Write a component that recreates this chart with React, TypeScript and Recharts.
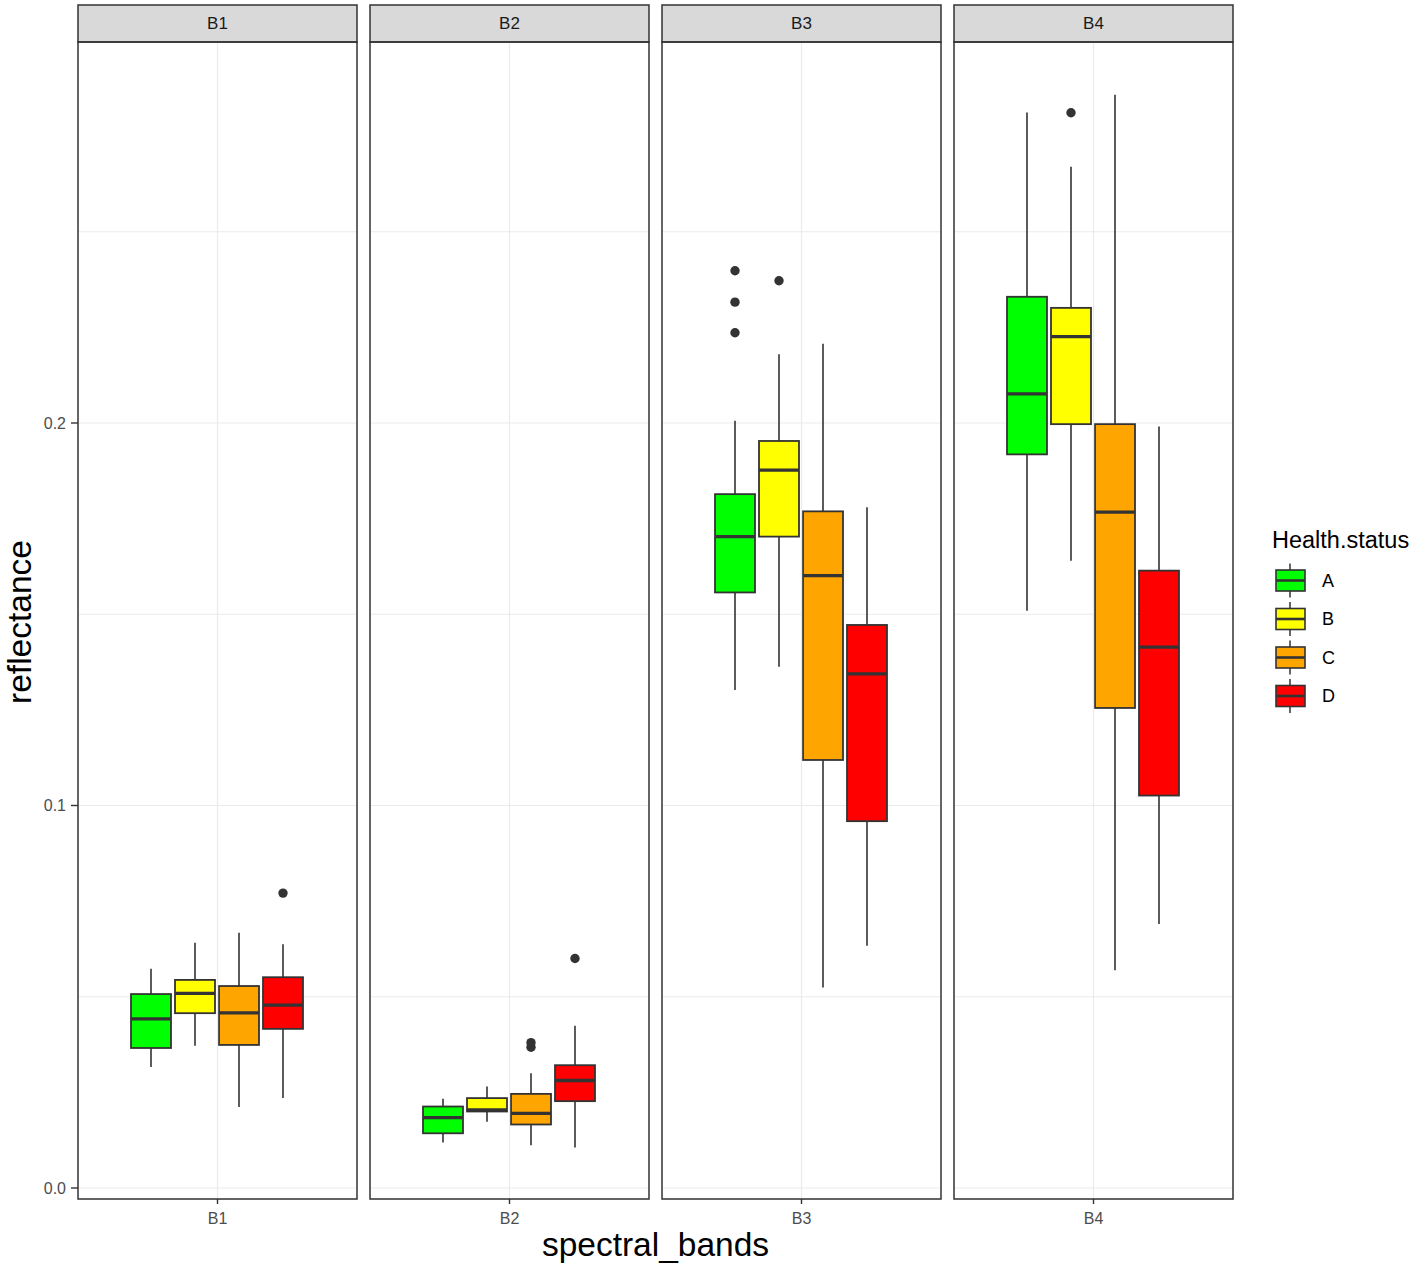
import React from 'react';
import { ComposedChart, Bar, XAxis, YAxis, CartesianGrid, ReferenceLine } from 'recharts';

// ---------- data ----------
const bands = ['B1', 'B2', 'B3', 'B4'];
const groups = ['A', 'B', 'C', 'D'];
const yTicks = [0, 0.05, 0.1, 0.15, 0.2, 0.25];
const yMajorTicks = [0, 0.1, 0.2];

type Stat = { group: string; lo: number; q1: number; med: number; q3: number; hi: number; out: number[] };

const b1Stats: Stat[] = [
  { group: 'A', lo: 0.0316, q1: 0.0366, med: 0.0442, q3: 0.0507, hi: 0.0573, out: [] },
  { group: 'B', lo: 0.0372, q1: 0.0457, med: 0.0509, q3: 0.0544, hi: 0.0641, out: [] },
  { group: 'C', lo: 0.0212, q1: 0.0374, med: 0.0458, q3: 0.0528, hi: 0.0667, out: [] },
  { group: 'D', lo: 0.0235, q1: 0.0416, med: 0.0478, q3: 0.0551, hi: 0.0637, out: [0.0771] },
];
const b2Stats: Stat[] = [
  { group: 'A', lo: 0.0119, q1: 0.0143, med: 0.0184, q3: 0.0213, hi: 0.0233, out: [] },
  { group: 'B', lo: 0.0173, q1: 0.02, med: 0.0204, q3: 0.0235, hi: 0.0265, out: [] },
  { group: 'C', lo: 0.0112, q1: 0.0166, med: 0.0195, q3: 0.0246, hi: 0.03, out: [0.0368, 0.038] },
  { group: 'D', lo: 0.0106, q1: 0.0227, med: 0.0281, q3: 0.0321, hi: 0.0424, out: [0.06] },
];
const b3Stats: Stat[] = [
  { group: 'A', lo: 0.1302, q1: 0.1557, med: 0.1703, q3: 0.1814, hi: 0.2006, out: [0.2236, 0.2316, 0.2398] },
  { group: 'B', lo: 0.1363, q1: 0.1703, med: 0.1877, q3: 0.1953, hi: 0.218, out: [0.2372] },
  { group: 'C', lo: 0.0524, q1: 0.1119, med: 0.1601, q3: 0.1769, hi: 0.2207, out: [] },
  { group: 'D', lo: 0.0633, q1: 0.0959, med: 0.1344, q3: 0.1472, hi: 0.178, out: [] },
];
const b4Stats: Stat[] = [
  { group: 'A', lo: 0.1509, q1: 0.1918, med: 0.2076, q3: 0.233, hi: 0.2812, out: [] },
  { group: 'B', lo: 0.164, q1: 0.1997, med: 0.2226, q3: 0.2301, hi: 0.267, out: [0.2811] },
  { group: 'C', lo: 0.0569, q1: 0.1255, med: 0.1767, q3: 0.1997, hi: 0.2858, out: [] },
  { group: 'D', lo: 0.069, q1: 0.1026, med: 0.1414, q3: 0.1614, hi: 0.1991, out: [] },
];
const bandStats = [b1Stats, b2Stats, b3Stats, b4Stats];

// ---------- styles / layout ----------
const groupColors: Record<string, string> = { A: '#00FF00', B: '#FFFF00', C: '#FFA500', D: '#FF0000' };
const W = 1418;
const H = 1270;
const PANEL_X0 = 78;
const PANEL_STEP = 292;
const PANEL_W = 279;
const PANEL_TOP = 42;
const PANEL_BOTTOM = 1199;
const STRIP_TOP = 5;
const XAXIS_H = 30;
const YAXIS_W = 40;
const Y_DOMAIN: [number, number] = [-0.00288, 0.29961];
const DARK = '#333333';
const GRID = '#EBEBEB';
const FONT = '"Liberation Sans", Arial, Helvetica, sans-serif';

const BoxShape = (props: any) => {
  const { x, y, width, height, payload } = props;
  if (!payload || x == null) return null;
  const top = Math.min(y, y + height);
  const bot = Math.max(y, y + height);
  const span = payload.hi - payload.lo;
  const px = (v: number) => top + ((payload.hi - v) / span) * (bot - top);
  const cx = x + width / 2;
  const yq3 = px(payload.q3);
  const yq1 = px(payload.q1);
  return (
    <g>
      <line x1={cx} x2={cx} y1={px(payload.hi)} y2={yq3} stroke={DARK} strokeWidth={1.6} />
      <line x1={cx} x2={cx} y1={yq1} y2={px(payload.lo)} stroke={DARK} strokeWidth={1.6} />
      <rect x={x} y={yq3} width={width} height={yq1 - yq3} fill={groupColors[payload.group]} stroke={DARK} strokeWidth={1.8} />
      <line x1={x} x2={x + width} y1={px(payload.med)} y2={px(payload.med)} stroke={DARK} strokeWidth={3.3} />
      {payload.out.map((o: number, k: number) => (
        <circle key={k} cx={cx} cy={px(o)} r={4.7} fill={DARK} />
      ))}
    </g>
  );
};

const YTick = (props: any) => {
  const { x, y, payload } = props;
  const v = payload.value;
  if (!yMajorTicks.some((t) => Math.abs(t - v) < 1e-9)) return <g />;
  return (
    <g>
      <line x1={x + 5} x2={x + 12} y1={y} y2={y} stroke={DARK} strokeWidth={1.4} />
      <text x={x} y={y} dy="0.35em" textAnchor="end" fontSize={16} fill="#4D4D4D" fontFamily={FONT}>
        {v.toFixed(1)}
      </text>
    </g>
  );
};

const Panel = ({ index }: { index: number }) => {
  const left = PANEL_X0 + index * PANEL_STEP;
  const band = bands[index];
  const rows = bandStats[index].map((s) => ({ ...s, band }));
  return (
    <div style={{ position: 'absolute', left: 0, top: 0 }}>
      <ComposedChart
        width={W}
        height={H}
        data={rows}
        margin={{
          top: PANEL_TOP,
          bottom: H - PANEL_BOTTOM - XAXIS_H,
          left: index === 0 ? left - YAXIS_W : left,
          right: W - left - PANEL_W,
        }}
      >
        <CartesianGrid stroke={GRID} strokeWidth={1.2} vertical={false} />
        <XAxis xAxisId="cat" dataKey="group" type="category" hide padding={{ left: 51, right: 52 }} />
        <XAxis
          xAxisId={0}
          dataKey="band"
          type="category"
          allowDuplicatedCategory={false}
          axisLine={false}
          tickLine={{ stroke: DARK, strokeWidth: 1.4 }}
          tickSize={5}
          tickMargin={9}
          height={XAXIS_H}
          interval={0}
          tick={{ fill: '#4D4D4D', fontSize: 16, fontFamily: FONT }}
        />
        <YAxis
          type="number"
          domain={Y_DOMAIN}
          ticks={yTicks}
          allowDataOverflow
          width={YAXIS_W}
          hide={index > 0}
          tick={<YTick />}
          tickLine={false}
          axisLine={false}
          tickSize={7}
          tickMargin={5}
        />
        <ReferenceLine xAxisId={0} x={band} stroke={GRID} strokeWidth={1.2} position="middle" />
        <Bar
          xAxisId="cat"
          dataKey={(d: Stat) => [d.lo, d.hi]}
          barSize={40}
          shape={<BoxShape />}
          activeBar={false}
          isAnimationActive={false}
        />
      </ComposedChart>
    </div>
  );
};

const Overlay = () => (
  <svg width={W} height={H} style={{ position: 'absolute', left: 0, top: 0, pointerEvents: 'none' }} fontFamily={FONT}>
    {bands.map((b, i) => {
      const left = PANEL_X0 + i * PANEL_STEP;
      return (
        <g key={b}>
          <rect x={left} y={STRIP_TOP} width={PANEL_W} height={PANEL_TOP - STRIP_TOP} fill="#D9D9D9" stroke={DARK} strokeWidth={1.5} />
          <text x={left + PANEL_W / 2} y={(STRIP_TOP + PANEL_TOP) / 2} dy="0.35em" textAnchor="middle" fontSize={17} fill="#1A1A1A">
            {b}
          </text>
          <rect x={left} y={PANEL_TOP} width={PANEL_W} height={PANEL_BOTTOM - PANEL_TOP} fill="none" stroke={DARK} strokeWidth={1.5} />
        </g>
      );
    })}
    <text x={(PANEL_X0 + PANEL_X0 + 3 * PANEL_STEP + PANEL_W) / 2} y={1256} textAnchor="middle" fontSize={33.5} fill="#000">
      spectral_bands
    </text>
    <text x={0} y={0} transform="translate(31,622) rotate(-90)" textAnchor="middle" fontSize={33.5} fill="#000">
      reflectance
    </text>
    <text x={1272} y={548} fontSize={23.5} fill="#000">
      Health.status
    </text>
    {groups.map((g, i) => {
      const cy = 580.5 + i * 38.5;
      return (
        <g key={g}>
          <line x1={1290} x2={1290} y1={cy - 17} y2={cy + 17} stroke={DARK} strokeWidth={1.5} />
          <rect x={1276} y={cy - 10.5} width={29} height={21} fill={groupColors[g]} stroke={DARK} strokeWidth={1.6} />
          <line x1={1276} x2={1305} y1={cy} y2={cy} stroke={DARK} strokeWidth={2.6} />
          <text x={1322} y={cy} dy="0.35em" fontSize={18} fill="#000">
            {g}
          </text>
        </g>
      );
    })}
  </svg>
);

export default function App() {
  return (
    <div
      style={{
        position: 'absolute',
        left: 0,
        top: 0,
        width: W,
        height: H,
        overflow: 'hidden',
        fontFamily: FONT,
        background: '#fff',
      }}
    >
      {bands.map((b, i) => (
        <Panel key={b} index={i} />
      ))}
      <Overlay />
    </div>
  );
}
